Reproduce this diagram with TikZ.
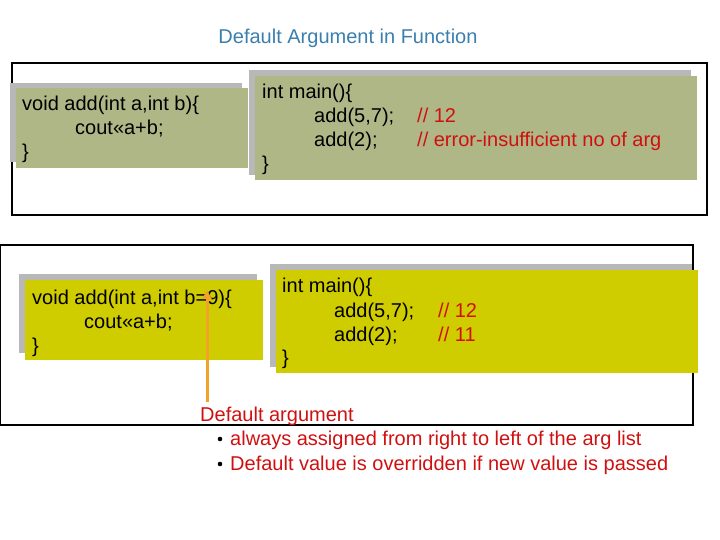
\documentclass[tikz,border=0pt]{standalone}
\usepackage{fontspec}
\setmainfont{Liberation Sans}
\usetikzlibrary{arrows.meta}
\definecolor{olivebox}{HTML}{AFB787}
\definecolor{yellowbox}{HTML}{CFCC00}
\definecolor{shadowgray}{HTML}{B8B8B8}
\definecolor{titleblue}{HTML}{3A7FAE}
\definecolor{redtxt}{HTML}{D01010}
\definecolor{arroworange}{HTML}{F2A12A}
\tikzset{
  code/.style={anchor=base west, inner sep=0pt, font=\fontsize{20}{24}\selectfont},
  cmt/.style={code, text=redtxt},
  frame/.style={draw=black, line width=2pt},
  shadow/.style={fill=shadowgray},
}
\begin{document}
\begin{tikzpicture}[x=1pt,y=-1pt]
\useasboundingbox (0,0) rectangle (720,540);
\node[font=\fontsize{20}{24}\selectfont, text=titleblue] (title) at (348,38) {Default Argument in Function};
% top frame
\draw[frame] (12,63) rectangle (707,215);
\fill[shadow] (10,83) rectangle (242,162);
\fill[olivebox] (16,88) rectangle (248,168);
\fill[shadow] (249,70) rectangle (691,175);
\fill[olivebox] (255,76) rectangle (697,180);
\node[code] (t1) at (22,111) {void add(int a,int b)\{};
\node[code] (t2) at (75,135) {cout<<a+b;};
\node[code] (t3) at (22,159) {\}};
\node[code] (m1) at (262,99) {int main()\{};
\node[code] (m2) at (314,123) {add(5,7);};
\node[cmt] (c1) at (417,123) {// 12};
\node[code] (m3) at (314,147) {add(2);};
\node[cmt] (c2) at (417,147) {// error-insufficient no of arg};
\node[code] (m4) at (262,171) {\}};
% bottom frame
\draw[frame] (0,245) rectangle (693,425);
\fill[shadow] (19,274) rectangle (257,353);
\fill[yellowbox] (25,280) rectangle (263,360);
\fill[shadow] (270,264) rectangle (692,367);
\fill[yellowbox] (276,270) rectangle (698,373);
\node[code] (b1) at (32,304) {void add(int a,int b=9)\{};
\node[code] (b2) at (84,328) {cout<<a+b;};
\node[code] (b3) at (32,352) {\}};
\node[code] (n1) at (282,292) {int main()\{};
\node[code] (n2) at (334,317) {add(5,7);};
\node[cmt] (d1) at (438,317) {// 12};
\node[code] (n3) at (334,341) {add(2);};
\node[cmt] (d2) at (438,341) {// 11};
\node[code] (n4) at (282,364) {\}};
% annotation
\node[cmt] (note) at (200,421) {Default argument};
\node[cmt] (l1) at (230,445) {always assigned from right to left of the arg list};
\node[cmt] (l2) at (230,470) {Default value is overridden if new value is passed};
\fill (220,439) circle (2.3);
\fill (220,464) circle (2.3);
\coordinate (tail) at (207,402);
\coordinate (tip) at (207,290);
\draw[arroworange, line width=3pt, -{Triangle[length=9pt,width=9pt]}] (tail) -- (tip);
\end{tikzpicture}
\end{document}
